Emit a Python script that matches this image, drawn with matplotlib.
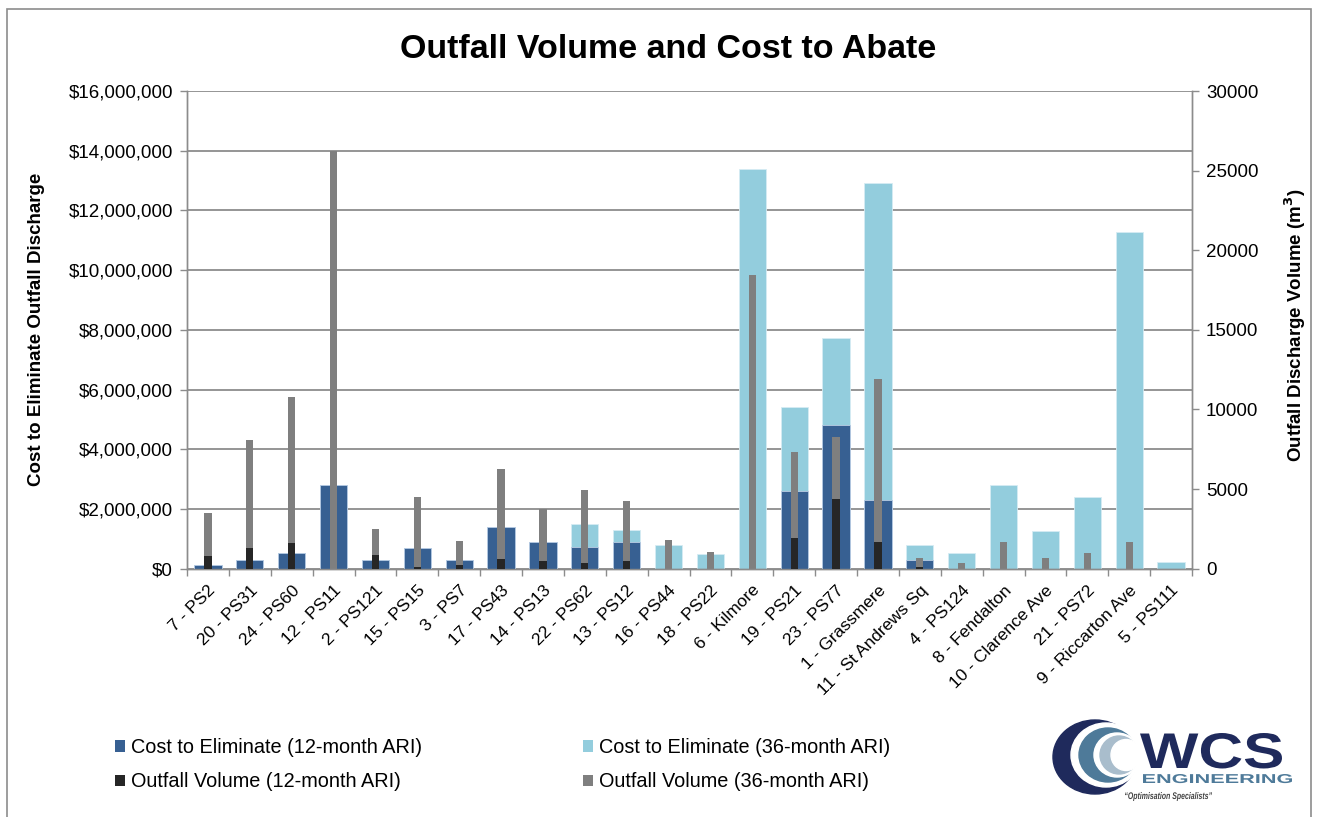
import matplotlib
matplotlib.use("Agg")
import matplotlib.pyplot as plt
import numpy as np
from matplotlib.patches import Patch, Rectangle, PathPatch, Ellipse
from matplotlib.textpath import TextPath
from matplotlib.font_manager import FontProperties
from matplotlib.transforms import Affine2D
from matplotlib.ticker import FuncFormatter, MultipleLocator

plt.rcParams['font.family'] = ['Liberation Sans', 'DejaVu Sans']

categories = ["7 - PS2", "20 - PS31", "24 - PS60", "12 - PS11", "2 - PS121", "15 - PS15",
              "3 - PS7", "17 - PS43", "14 - PS13", "22 - PS62", "13 - PS12", "16 - PS44",
              "18 - PS22", "6 - Kilmore", "19 - PS21", "23 - PS77", "1 - Grassmere",
              "11 - St Andrews Sq", "4 - PS124", "8 - Fendalton", "10 - Clarence Ave",
              "21 - PS72", "9 - Riccarton Ave", "5 - PS111"]

# Cost to eliminate ($)
cost_12 = [120000, 290000, 520000, 2790000, 290000, 690000, 290000, 1400000, 910000,
           730000, 890000, 0, 0, 0, 2610000, 4810000, 2300000, 290000, 0, 0, 0, 0, 0, 0]
cost_36 = [120000, 290000, 520000, 2790000, 290000, 690000, 290000, 1400000, 910000,
           1490000, 1310000, 790000, 500000, 13400000, 5400000, 7730000, 12930000,
           790000, 520000, 2790000, 1260000, 2400000, 11280000, 230000]

# Outfall volume (m3)
vol_12 = [800, 1320, 1630, 0, 840, 120, 210, 590, 480, 380, 480, 0, 0, 0, 1930, 4360,
          1700, 120, 0, 0, 0, 0, 0, 0]
vol_36 = [3500, 8100, 10800, 26250, 2500, 4520, 1740, 6250, 3730, 4930, 4240, 1820,
          1030, 18470, 7340, 8280, 11910, 670, 360, 1700, 670, 970, 1700, 0]

legend_labels = ["Cost to Eliminate (12-month ARI)", "Cost to Eliminate (36-month ARI)",
                 "Outfall Volume (12-month ARI)", "Outfall Volume (36-month ARI)"]

C12 = "#376092"
C36 = "#93CDDD"
V12 = "#262626"
V36 = "#7F7F7F"
GRID = "#8C8C8C"
NAVY = "#1F2A5C"
STEEL = "#4E7A99"

W, H = 1317, 817
fig = plt.figure(figsize=(W / 100, H / 100), dpi=100)

# outer border (bottom edge runs off the image)
fig.patches.append(Rectangle((7 / W, -10 / H), (1311 - 7) / W, (817 - 9 + 10) / H,
                             transform=fig.transFigure, fill=False,
                             edgecolor="#8C8C8C", linewidth=1.2))

ax = fig.add_axes([187 / W, 1 - 568.7 / H, (1192 - 187) / W, (568.7 - 91) / H])
x = np.arange(len(categories))

ax.bar(x, cost_36, width=0.65, color=C36, edgecolor="#D6ECF3", linewidth=0.6, zorder=2)
ax.bar(x, cost_12, width=0.65, color=C12, edgecolor="#B9CCE4", linewidth=0.6, zorder=3)
ax.set_ylim(0, 16000000)
ax.set_xlim(-0.5, len(categories) - 0.5)
ax.yaxis.set_major_locator(MultipleLocator(2000000))
ax.yaxis.set_major_formatter(FuncFormatter(lambda v, p: "${:,.0f}".format(v)))
ax.grid(axis='y', color=GRID, linewidth=1.3, zorder=0)
ax.set_axisbelow(True)

ax2 = ax.twinx()
ax2.bar(x, vol_36, width=0.175, color=V36, zorder=2)
ax2.bar(x, vol_12, width=0.175, color=V12, zorder=3)
ax2.set_ylim(0, 30000)
ax2.yaxis.set_major_locator(MultipleLocator(5000))

for a in (ax, ax2):
    for s in a.spines.values():
        s.set_color(GRID)
        s.set_linewidth(1.0)
    a.spines['top'].set_visible(False)
    a.tick_params(axis='y', colors=GRID, labelcolor="black", labelsize=13.5,
                  length=5, width=1.0, direction='out', pad=5)

ax.set_xticks(x)
ax.set_xticklabels(categories, rotation=45, ha='right', rotation_mode='anchor', fontsize=12.5)
ax.tick_params(axis='x', length=0, pad=10)
ax.set_xticks(np.arange(-0.5, len(categories)), minor=True)
ax.tick_params(axis='x', which='minor', length=5, width=1.0, color=GRID, direction='out')

ax.set_ylabel("Cost to Eliminate Outfall Discharge", fontsize=13.5, fontweight='bold')
ax.yaxis.set_label_coords((45 - 187) / 1005, 0.5)
ax2.set_ylabel("Outfall Discharge Volume (m$^\\mathbf{3}$)", fontsize=13.5, fontweight='bold')
ax2.yaxis.set_label_coords((1282 - 187) / 1005, 0.51)

fig.text(668 / W, 1 - 49 / H, "Outfall Volume and Cost to Abate", ha='center', va='center',
         fontsize=24.5, fontweight='bold')

handles = [Patch(facecolor=C12), Patch(facecolor=V12), Patch(facecolor=C36), Patch(facecolor=V36)]
labels = [legend_labels[0], legend_labels[2], legend_labels[1], legend_labels[3]]
fig.legend(handles, labels, ncol=2, loc='upper left', bbox_to_anchor=(107 / W, 1 - 730 / H),
           frameon=False, fontsize=14.3, handlelength=0.5, handleheight=0.5, handletextpad=0.3,
           columnspacing=8.1, labelspacing=0.78, borderaxespad=0)

# Logo, drawn in an axes whose data units are figure pixels (y downward)
L0, R0, T0, B0 = 1040, 1310, 712, 808
lax = fig.add_axes([L0 / W, 1 - B0 / H, (R0 - L0) / W, (B0 - T0) / H])
lax.set_xlim(L0, R0)
lax.set_ylim(B0, T0)
lax.axis('off')
lax.add_patch(Ellipse((1095, 757), 84, 74, color=NAVY))
lax.add_patch(Ellipse((1106, 755), 70, 64, color="white"))
lax.add_patch(Ellipse((1108, 755), 58, 54, color=STEEL))
lax.add_patch(Ellipse((1117, 755), 46, 44, color="white"))
lax.add_patch(Ellipse((1119, 755), 38, 38, color="#A9BDCC"))
lax.add_patch(Ellipse((1126, 755), 30, 31, color="white"))


def boxed_text(s, x0, x1, ytop, ybase, color, weight='bold', style='normal'):
    tp = TextPath((0, 0), s, size=10, prop=FontProperties(family='Liberation Sans',
                                                         weight=weight, style=style))
    bb = tp.get_extents()
    sx = (x1 - x0) / bb.width
    sy = (ybase - ytop) / bb.y1
    tr = Affine2D().translate(-bb.x0, 0).scale(sx, -sy).translate(x0, ybase)
    lax.add_patch(PathPatch(tr.transform_path(tp), color=color, lw=0))


boxed_text("WCS", 1140, 1282, 733, 768, NAVY)
boxed_text("ENGINEERING", 1143, 1292, 774, 783, STEEL)
boxed_text("\u201cOptimisation Specialists\u201d", 1125, 1212, 792, 799, "#444444",
           style='italic')

fig.savefig("out.png", dpi=100)
